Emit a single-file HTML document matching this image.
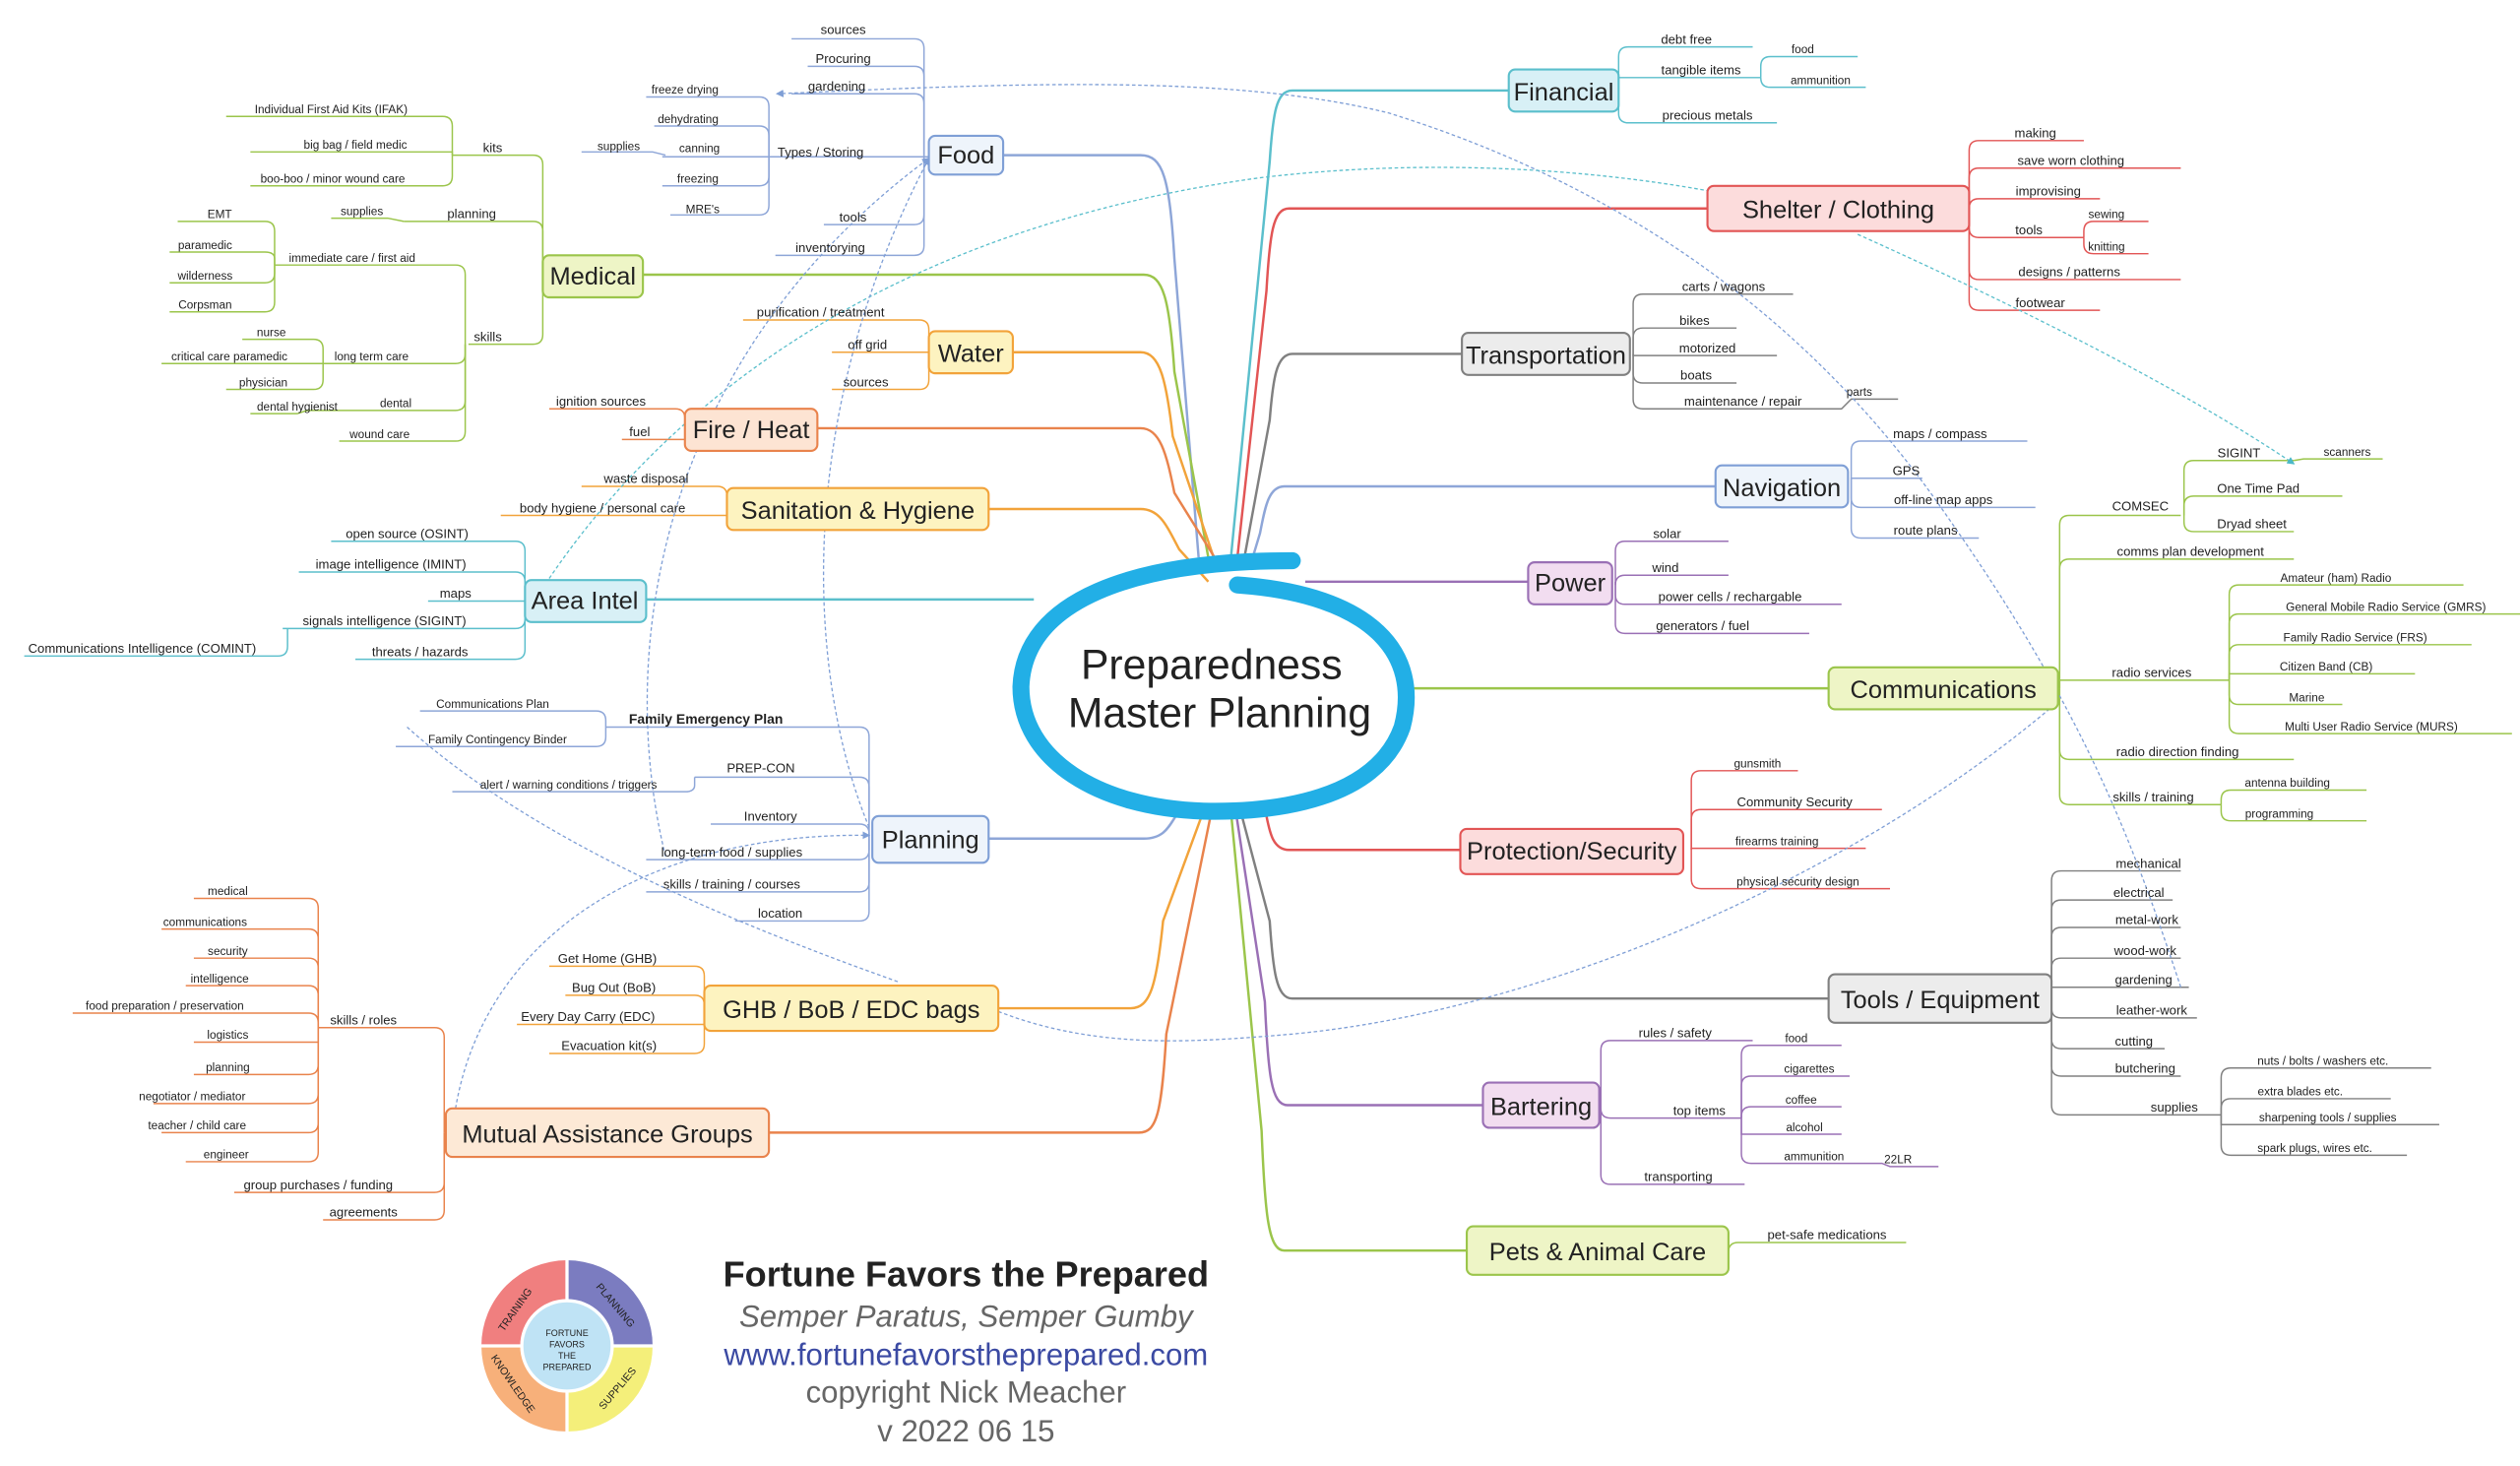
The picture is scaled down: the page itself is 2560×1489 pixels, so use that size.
<!DOCTYPE html>
<html><head><meta charset="utf-8"><style>
html,body{margin:0;padding:0;background:#fff;}
svg{display:block;}
text{font-family:"Liberation Sans",Arial,sans-serif;fill:#222;}
.l{font-size:8px;text-anchor:middle;}
.s{font-size:7.2px;text-anchor:middle;}
.n{font-size:15.5px;text-anchor:middle;}
.c path{fill:none;stroke-width:0.9;}
.m{fill:none;stroke-width:1.5;}
.d{fill:none;stroke-width:0.8;stroke-dasharray:2.2 1.6;}
</style></head><body>
<svg width="2560" height="1489" viewBox="0 0 1560 907.3" xmlns="http://www.w3.org/2000/svg">
<defs>
<marker id="ab" markerWidth="6" markerHeight="6" refX="5" refY="3" orient="auto"><path d="M0 0L6 3L0 6z" fill="#7f9fd6"/></marker>
<marker id="at" markerWidth="6" markerHeight="6" refX="5" refY="3" orient="auto"><path d="M0 0L6 3L0 6z" fill="#4bb8c8"/></marker>
</defs>

<!-- main branches -->
<g>
<path class="m" stroke="#8ea6d8" d="M621 96H706C720 96 724 110 727 160L742 345"/>
<path class="m" stroke="#9bc54b" d="M398 170H708C720 170 724 185 727 230L748 345"/>
<path class="m" stroke="#f2a33a" d="M627 218H706C718 218 722 235 726 270L752 347"/>
<path class="m" stroke="#e9834c" d="M506 265H706C718 265 722 280 727 305L755 350"/>
<path class="m" stroke="#f2a33a" d="M612 315H706C718 315 722 325 730 340L748 360"/>
<path class="m" stroke="#5bbfcc" d="M400 371H640"/>
<path class="m" stroke="#8ea6d8" d="M612 519H708C722 519 724 510 730 502"/>
<path class="m" stroke="#f2a33a" d="M618 624H700C712 624 716 610 720 570L745 502"/>
<path class="m" stroke="#e9834c" d="M476 701H705C716 701 719 690 722 640L750 502"/>
<path class="m" stroke="#5bbfcc" d="M934 56H800C790 56 788 70 786 100L762 345"/>
<path class="m" stroke="#e25555" d="M1057 129H798C788 129 786 145 784 180L766 345"/>
<path class="m" stroke="#808080" d="M905 219H800C790 219 788 235 786 260L770 347"/>
<path class="m" stroke="#8ea6d8" d="M1062 301H795C785 301 783 315 780 330L774 350"/>
<path class="m" stroke="#9a70b5" d="M946 360H808"/>
<path class="m" stroke="#9bc54b" d="M1132 426H872"/>
<path class="m" stroke="#e25555" d="M904 526H798C788 526 786 515 784 505L772 500"/>
<path class="m" stroke="#808080" d="M1132 618H800C790 618 788 600 786 570L768 502"/>
<path class="m" stroke="#9a70b5" d="M918 684H797C787 684 785 665 783 620L765 502"/>
<path class="m" stroke="#9bc54b" d="M908 774H795C785 774 783 750 781 700L762 502"/>
</g>

<!-- center -->
<path d="M766 362C850 368 880 405 868 450C852 495 790 503 745 502C680 500 632 470 632 425C634 372 700 347 800 347" fill="none" stroke="#22afe6" stroke-width="10.5" stroke-linecap="round"/>
<text x="750" y="420" style="font-size:26px;text-anchor:middle;fill:#222">Preparedness</text>
<text x="755" y="450" style="font-size:26px;text-anchor:middle;fill:#222">Master Planning</text>

<!-- child connectors -->
<g class="c">
<g stroke="#8ea6d8">
<path d="M572 96V30Q572 24 566 24H490"/><path d="M572 96V47Q572 41 566 41H500"/><path d="M572 96V64Q572 58 566 58H490"/>
<path d="M575 97H476"/><path d="M572 96V133Q572 139 566 139H510"/><path d="M572 96V152Q572 158 566 158H480"/>
<path d="M476 97V66Q476 60 470 60H400"/><path d="M476 97V84Q476 78 470 78H405"/><path d="M476 97H410"/>
<path d="M476 97V109Q476 115 470 115H410"/><path d="M476 97V127Q476 133 470 133H415"/><path d="M412 96L404 94H360"/>
<path d="M538 519V456Q538 450 532 450H375"/><path d="M538 519V487Q538 481 532 481H430"/><path d="M538 519V516Q538 510 532 510H440"/>
<path d="M538 519V526Q538 532 532 532H400"/><path d="M538 519V546Q538 552 532 552H400"/><path d="M538 519V564Q538 570 532 570H455"/>
<path d="M375 450V446Q375 440 369 440H260"/><path d="M375 450V456Q375 462 369 462H245"/><path d="M430 481V486Q430 490 424 490H280"/>
<path d="M1146 301V279Q1146 273 1152 273H1255"/><path d="M1146 301V296H1190"/><path d="M1146 301V308Q1146 314 1152 314H1260"/><path d="M1146 301V327Q1146 333 1152 333H1225"/>
</g>
<g stroke="#9bc54b">
<path d="M336 170V102Q336 96 330 96H280"/><path d="M336 170V143Q336 137 330 137H250"/><path d="M336 170V207Q336 213 330 213H290"/>
<path d="M280 96V78Q280 72 274 72H140"/><path d="M280 96V94H155"/><path d="M280 96V109Q280 115 274 115H155"/>
<path d="M250 137L240 135H205"/>
<path d="M288 213V170Q288 164 282 164H170"/><path d="M288 213V219Q288 225 282 225H200"/><path d="M288 213V248Q288 254 282 254H190"/><path d="M288 213V267Q288 273 282 273H210"/>
<path d="M170 164V143Q170 137 164 137H110"/><path d="M170 164V160Q170 156 164 156H105"/><path d="M170 164V169Q170 175 164 175H105"/><path d="M170 164V187Q170 193 164 193H105"/>
<path d="M200 225V216Q200 210 194 210H150"/><path d="M200 225H100"/><path d="M200 225V235Q200 241 194 241H140"/>
<path d="M190 254L184 256H155"/>
<path d="M1275 426V325Q1275 319 1281 319H1350"/><path d="M1275 426V352Q1275 346 1281 346H1420"/><path d="M1275 426V421H1380"/>
<path d="M1275 426V464Q1275 470 1281 470H1420"/><path d="M1275 426V492Q1275 498 1281 498H1375"/>
<path d="M1352 319V291Q1352 285 1358 285H1420"/><path d="M1352 319V313Q1352 307 1358 307H1450"/><path d="M1352 319V323Q1352 329 1358 329H1420"/><path d="M1420 285L1426 284H1475"/>
<path d="M1380 421V368Q1380 362 1386 362H1525"/><path d="M1380 421V386Q1380 380 1386 380H1560"/><path d="M1380 421V405Q1380 399 1386 399H1530"/>
<path d="M1380 421V417H1495"/><path d="M1380 421V430Q1380 436 1386 436H1450"/><path d="M1380 421V448Q1380 454 1386 454H1555"/>
<path d="M1375 498V495Q1375 489 1381 489H1465"/><path d="M1375 498V502Q1375 508 1381 508H1465"/>
<path d="M1070 774V775Q1070 769 1076 769H1180"/>
</g>
<g stroke="#f2a33a">
<path d="M575 218V204Q575 198 569 198H460"/><path d="M575 218H515"/><path d="M575 218V235Q575 241 569 241H515"/>
<path d="M450 315V307Q450 301 444 301H360"/><path d="M450 315V319H310"/>
<path d="M436 624V604Q436 598 430 598H340"/><path d="M436 624V622Q436 616 430 616H350"/><path d="M436 624V634H320"/><path d="M436 624V646Q436 652 430 652H340"/>
</g>
<g stroke="#e9834c">
<path d="M424 265V259Q424 253 418 253H340"/><path d="M424 265V272H385"/>
<path d="M275 701V642Q275 636 269 636H197"/><path d="M275 701V732Q275 738 269 738H145"/><path d="M275 701V749Q275 755 269 755H200"/>
<path d="M197 636V562Q197 556 191 556H120"/><path d="M197 636V581Q197 575 191 575H100"/><path d="M197 636V599Q197 593 191 593H120"/>
<path d="M197 636V616Q197 610 191 610H115"/><path d="M197 636V633Q197 627 191 627H45"/><path d="M197 636V645H120"/>
<path d="M197 636V659Q197 665 191 665H120"/><path d="M197 636V677Q197 683 191 683H95"/><path d="M197 636V695Q197 701 191 701H100"/><path d="M197 636V713Q197 719 191 719H115"/>
</g>
<g stroke="#5bbfcc">
<path d="M325 371V341Q325 335 319 335H205"/><path d="M325 371V360Q325 354 319 354H185"/><path d="M325 371V372H265"/>
<path d="M325 371V383Q325 389 319 389H175"/><path d="M325 371V402Q325 408 319 408H220"/><path d="M178 389V400Q178 406 172 406H15"/>
<path d="M1002 56V35Q1002 29 1008 29H1085"/><path d="M1002 56V48H1090"/><path d="M1002 56V70Q1002 76 1008 76H1100"/>
<path d="M1090 48V41Q1090 35 1096 35H1150"/><path d="M1090 48V48Q1090 54 1096 54H1155"/>
</g>
<g stroke="#e25555">
<path d="M1219 129V93Q1219 87 1225 87H1290"/><path d="M1219 129V110Q1219 104 1225 104H1350"/><path d="M1219 129V129Q1219 123 1225 123H1300"/>
<path d="M1219 129V141Q1219 147 1225 147H1290"/><path d="M1219 129V167Q1219 173 1225 173H1350"/><path d="M1219 129V186Q1219 192 1225 192H1300"/>
<path d="M1290 147V143Q1290 137 1296 137H1330"/><path d="M1290 147V151Q1290 157 1296 157H1330"/>
<path d="M1047 526V483Q1047 477 1053 477H1113"/><path d="M1047 526V507Q1047 501 1053 501H1165"/><path d="M1047 526V525H1155"/><path d="M1047 526V544Q1047 550 1053 550H1170"/>
</g>
<g stroke="#808080">
<path d="M1011 219V188Q1011 182 1017 182H1110"/><path d="M1011 219V209Q1011 203 1017 203H1075"/><path d="M1011 219V220H1100"/>
<path d="M1011 219V231Q1011 237 1017 237H1075"/><path d="M1011 219V247Q1011 253 1017 253H1140L1146 247H1175"/>
<path d="M1270 618V545Q1270 539 1276 539H1350"/><path d="M1270 618V563Q1270 557 1276 557H1345"/><path d="M1270 618V580Q1270 574 1276 574H1350"/>
<path d="M1270 618V599Q1270 593 1276 593H1350"/><path d="M1270 618V611H1355"/><path d="M1270 618V624Q1270 630 1276 630H1360"/>
<path d="M1270 618V643Q1270 649 1276 649H1340"/><path d="M1270 618V660Q1270 666 1276 666H1350"/><path d="M1270 618V684Q1270 690 1276 690H1375"/>
<path d="M1375 690V667Q1375 661 1381 661H1505"/><path d="M1375 690V686Q1375 680 1381 680H1480"/><path d="M1375 690V696H1510"/><path d="M1375 690V709Q1375 715 1381 715H1490"/>
</g>
<g stroke="#9a70b5">
<path d="M1000 360V341Q1000 335 1006 335H1070"/><path d="M1000 360V362Q1000 356 1006 356H1070"/><path d="M1000 360V368Q1000 374 1006 374H1140"/><path d="M1000 360V386Q1000 392 1006 392H1120"/>
<path d="M991 684V650Q991 644 997 644H1085"/><path d="M991 684V686Q991 692 997 692H1078"/><path d="M991 684V727Q991 733 997 733H1080"/>
<path d="M1078 692V653Q1078 647 1084 647H1140"/><path d="M1078 692V672Q1078 666 1084 666H1145"/><path d="M1078 692V691Q1078 685 1084 685H1140"/>
<path d="M1078 692V702H1140"/><path d="M1078 692V714Q1078 720 1084 720H1165L1170 722H1200"/>
</g>
</g>

<!-- dashed relationships -->
<path class="d" stroke="#7f9fd6" marker-end="url(#ab)" d="M1350 611C1320 520 1290 440 1205 319C1130 210 1020 120 860 70C760 45 620 52 481 58"/>
<path class="d" stroke="#5bbfcc" d="M340 358C420 240 560 140 780 110C880 98 980 104 1057 118"/>
<path class="d" stroke="#5bbfcc" marker-end="url(#at)" d="M1150 145C1250 190 1350 240 1420 287"/>
<path class="d" stroke="#7f9fd6" d="M618 626C680 650 740 645 800 640C960 625 1150 540 1272 436"/>
<path class="d" stroke="#7f9fd6" marker-end="url(#ab)" d="M538 512C500 420 490 260 575 98"/>
<path class="d" stroke="#7f9fd6" marker-end="url(#ab)" d="M412 530C380 400 410 220 575 98"/>
<path class="d" stroke="#7f9fd6" marker-end="url(#ab)" d="M282 686C300 580 400 515 538 517"/>
<path class="d" stroke="#7f9fd6" d="M252 450C330 520 450 570 557 608"/>

<!-- nodes -->
<g stroke-width="1.3">
<rect x="575" y="84" width="46" height="24" rx="4" fill="#eef4fb" stroke="#7f9fd6"/>
<rect x="336" y="158" width="62" height="26" rx="4" fill="#eef5c6" stroke="#9bc54b"/>
<rect x="575" y="205" width="52" height="26" rx="4" fill="#fdf3c0" stroke="#f2a33a"/>
<rect x="424" y="253" width="82" height="26" rx="4" fill="#fde4d3" stroke="#e9834c"/>
<rect x="450" y="302" width="162" height="26" rx="4" fill="#fdf3c0" stroke="#f2a33a"/>
<rect x="325" y="359" width="75" height="26" rx="4" fill="#d8f0f6" stroke="#5bbfcc"/>
<rect x="540" y="505" width="72" height="29" rx="4" fill="#eef4fb" stroke="#7f9fd6"/>
<rect x="436" y="610" width="182" height="28" rx="4" fill="#fdf3c0" stroke="#f2a33a"/>
<rect x="276" y="686" width="200" height="30" rx="4" fill="#fde9d6" stroke="#e9834c"/>
<rect x="934" y="43" width="68" height="26" rx="4" fill="#d8f0f6" stroke="#5bbfcc"/>
<rect x="1057" y="115" width="162" height="28" rx="4" fill="#fcdcdc" stroke="#e25555"/>
<rect x="905" y="206" width="104" height="26" rx="4" fill="#ececec" stroke="#808080"/>
<rect x="1062" y="288" width="82" height="26" rx="4" fill="#eef4fb" stroke="#7f9fd6"/>
<rect x="946" y="348" width="52" height="26" rx="4" fill="#f2ddf0" stroke="#9a70b5"/>
<rect x="1132" y="413" width="142" height="26" rx="4" fill="#eef5c6" stroke="#9bc54b"/>
<rect x="904" y="513" width="138" height="28" rx="4" fill="#fcdcdc" stroke="#e25555"/>
<rect x="1132" y="603" width="138" height="30" rx="4" fill="#ececec" stroke="#808080"/>
<rect x="918" y="670" width="72" height="28" rx="4" fill="#f2ddf0" stroke="#9a70b5"/>
<rect x="908" y="759" width="162" height="30" rx="4" fill="#eef5c6" stroke="#9bc54b"/>
</g>
<g class="nt">
<text class="n" x="598" y="101">Food</text>
<text class="n" x="367" y="176">Medical</text>
<text class="n" x="601" y="224">Water</text>
<text class="n" x="465" y="271">Fire / Heat</text>
<text class="n" x="531" y="321">Sanitation &amp; Hygiene</text>
<text class="n" x="362" y="377">Area Intel</text>
<text class="n" x="576" y="525">Planning</text>
<text class="n" x="527" y="630">GHB / BoB / EDC bags</text>
<text class="n" x="376" y="707">Mutual Assistance Groups</text>
<text class="n" x="968" y="62">Financial</text>
<text class="n" x="1138" y="135">Shelter / Clothing</text>
<text class="n" x="957" y="225">Transportation</text>
<text class="n" x="1103" y="307">Navigation</text>
<text class="n" x="972" y="366">Power</text>
<text class="n" x="1203" y="432">Communications</text>
<text class="n" x="973" y="532">Protection/Security</text>
<text class="n" x="1201" y="624">Tools / Equipment</text>
<text class="n" x="954" y="690">Bartering</text>
<text class="n" x="989" y="780">Pets &amp; Animal Care</text>
</g>

<!-- leaf labels -->
<g>
<text class="l" x="522" y="21">sources</text><text class="l" x="522" y="39">Procuring</text><text class="l" x="518" y="56">gardening</text>
<text class="l" x="508" y="97">Types / Storing</text><text class="l" x="528" y="137">tools</text><text class="l" x="514" y="156">inventorying</text>
<text class="s" x="424" y="58">freeze drying</text><text class="s" x="426" y="76">dehydrating</text><text class="s" x="433" y="94">canning</text>
<text class="s" x="432" y="113">freezing</text><text class="s" x="435" y="132">MRE's</text><text class="s" x="383" y="93">supplies</text>

<text class="l" x="305" y="94">kits</text><text class="l" x="292" y="135">planning</text><text class="l" x="302" y="211">skills</text>
<text class="s" x="205" y="70">Individual First Aid Kits (IFAK)</text><text class="s" x="220" y="92">big bag / field medic</text><text class="s" x="206" y="113">boo-boo / minor wound care</text>
<text class="s" x="224" y="133">supplies</text>
<text class="s" x="218" y="162">immediate care / first aid</text><text class="s" x="230" y="223">long term care</text><text class="s" x="245" y="252">dental</text><text class="s" x="235" y="271">wound care</text>
<text class="s" x="136" y="135">EMT</text><text class="s" x="127" y="154">paramedic</text><text class="s" x="127" y="173">wilderness</text><text class="s" x="127" y="191">Corpsman</text>
<text class="s" x="168" y="208">nurse</text><text class="s" x="142" y="223">critical care paramedic</text><text class="s" x="163" y="239">physician</text><text class="s" x="184" y="254">dental hygienist</text>

<text class="l" x="508" y="196">purification / treatment</text><text class="l" x="537" y="216">off grid</text><text class="l" x="536" y="239">sources</text>
<text class="l" x="372" y="251">ignition sources</text><text class="l" x="396" y="270">fuel</text>
<text class="l" x="400" y="299">waste disposal</text><text class="l" x="373" y="317">body hygiene / personal care</text>
<text class="l" x="252" y="333">open source (OSINT)</text><text class="l" x="242" y="352">image intelligence (IMINT)</text><text class="l" x="282" y="370">maps</text>
<text class="l" x="238" y="387">signals intelligence (SIGINT)</text><text class="l" x="260" y="406">threats / hazards</text><text class="l" x="88" y="404">Communications Intelligence (COMINT)</text>

<text x="437" y="448" style="font-size:8.5px;font-weight:bold;text-anchor:middle">Family Emergency Plan</text>
<text class="l" x="471" y="478">PREP-CON</text><text class="l" x="477" y="508">Inventory</text><text class="l" x="453" y="530">long-term food / supplies</text>
<text class="l" x="453" y="550">skills / training / courses</text><text class="l" x="483" y="568">location</text>
<text class="s" x="305" y="438">Communications Plan</text><text class="s" x="308" y="460">Family Contingency Binder</text><text class="s" x="352" y="488">alert / warning conditions / triggers</text>

<text class="l" x="376" y="596">Get Home (GHB)</text><text class="l" x="380" y="614">Bug Out (BoB)</text><text class="l" x="364" y="632">Every Day Carry (EDC)</text><text class="l" x="377" y="650">Evacuation kit(s)</text>

<text class="l" x="225" y="634">skills / roles</text><text class="l" x="197" y="736">group purchases / funding</text><text class="l" x="225" y="753">agreements</text>
<text class="s" x="141" y="554">medical</text><text class="s" x="127" y="573">communications</text><text class="s" x="141" y="591">security</text><text class="s" x="136" y="608">intelligence</text>
<text class="s" x="102" y="625">food preparation / preservation</text><text class="s" x="141" y="643">logistics</text><text class="s" x="141" y="663">planning</text>
<text class="s" x="119" y="681">negotiator / mediator</text><text class="s" x="122" y="699">teacher / child care</text><text class="s" x="140" y="717">engineer</text>

<text class="l" x="1044" y="27">debt free</text><text class="l" x="1053" y="46">tangible items</text><text class="l" x="1057" y="74">precious metals</text>
<text class="s" x="1116" y="33">food</text><text class="s" x="1127" y="52">ammunition</text>

<text class="l" x="1260" y="85">making</text><text class="l" x="1282" y="102">save worn clothing</text><text class="l" x="1268" y="121">improvising</text>
<text class="l" x="1256" y="145">tools</text><text class="l" x="1281" y="171">designs / patterns</text><text class="l" x="1263" y="190">footwear</text>
<text class="s" x="1304" y="135">sewing</text><text class="s" x="1304" y="155">knitting</text>

<text class="l" x="1067" y="180">carts / wagons</text><text class="l" x="1049" y="201">bikes</text><text class="l" x="1057" y="218">motorized</text>
<text class="l" x="1050" y="235">boats</text><text class="l" x="1079" y="251">maintenance / repair</text><text class="s" x="1151" y="245">parts</text>

<text class="l" x="1201" y="271">maps / compass</text><text class="l" x="1180" y="294">GPS</text><text class="l" x="1203" y="312">off-line map apps</text><text class="l" x="1192" y="331">route plans</text>

<text class="l" x="1032" y="333">solar</text><text class="l" x="1031" y="354">wind</text><text class="l" x="1071" y="372">power cells / rechargable</text><text class="l" x="1054" y="390">generators / fuel</text>

<text class="l" x="1325" y="316">COMSEC</text><text class="l" x="1356" y="344">comms plan development</text><text class="l" x="1332" y="419">radio services</text>
<text class="l" x="1348" y="468">radio direction finding</text><text class="l" x="1333" y="496">skills / training</text>
<text class="l" x="1386" y="283">SIGINT</text><text class="l" x="1398" y="305">One Time Pad</text><text class="l" x="1394" y="327">Dryad sheet</text><text class="s" x="1453" y="282">scanners</text>
<text class="s" x="1446" y="360">Amateur (ham) Radio</text><text class="s" x="1477" y="378">General Mobile Radio Service (GMRS)</text><text class="s" x="1458" y="397">Family Radio Service (FRS)</text>
<text class="s" x="1440" y="415">Citizen Band (CB)</text><text class="s" x="1428" y="434">Marine</text><text class="s" x="1468" y="452">Multi User Radio Service (MURS)</text>
<text class="s" x="1416" y="487">antenna building</text><text class="s" x="1411" y="506">programming</text>

<text class="s" x="1088" y="475">gunsmith</text><text class="l" x="1111" y="499">Community Security</text><text class="s" x="1100" y="523">firearms training</text><text class="s" x="1113" y="548">physical security design</text>

<text class="l" x="1330" y="537">mechanical</text><text class="l" x="1324" y="555">electrical</text><text class="l" x="1329" y="572">metal-work</text><text class="l" x="1328" y="591">wood-work</text>
<text class="l" x="1327" y="609">gardening</text><text class="l" x="1332" y="628">leather-work</text><text class="l" x="1321" y="647">cutting</text><text class="l" x="1328" y="664">butchering</text><text class="l" x="1346" y="688">supplies</text>
<text class="s" x="1438" y="659">nuts / bolts / washers etc.</text><text class="s" x="1424" y="678">extra blades etc.</text><text class="s" x="1441" y="694">sharpening tools / supplies</text><text class="s" x="1433" y="713">spark plugs, wires etc.</text>

<text class="l" x="1037" y="642">rules / safety</text><text class="l" x="1052" y="690">top items</text><text class="l" x="1039" y="731">transporting</text>
<text class="s" x="1112" y="645">food</text><text class="s" x="1120" y="664">cigarettes</text><text class="s" x="1115" y="683">coffee</text><text class="s" x="1117" y="700">alcohol</text>
<text class="s" x="1123" y="718">ammunition</text><text class="s" x="1175" y="720">22LR</text>
<text class="l" x="1131" y="767">pet-safe medications</text>
</g>

<!-- logo -->
<g transform="translate(351,833)">
<path d="M0 0V-53A53 53 0 0 1 53 0Z" fill="#7b7cc0"/>
<path d="M0 0H53A53 53 0 0 1 0 53Z" fill="#f4ef7a"/>
<path d="M0 0V53A53 53 0 0 1 -53 0Z" fill="#f7b07a"/>
<path d="M0 0H-53A53 53 0 0 1 0 -53Z" fill="#f07f7f"/>
<path d="M0 -54V54M-54 0H54" stroke="#fff" stroke-width="2"/>
<circle r="28" fill="#bfe3f5" stroke="#fff" stroke-width="2"/>
<text y="-6" style="font-size:5.5px;text-anchor:middle">FORTUNE</text>
<text y="1" style="font-size:5.5px;text-anchor:middle">FAVORS</text>
<text y="8" style="font-size:5.5px;text-anchor:middle">THE</text>
<text y="15" style="font-size:5.5px;text-anchor:middle">PREPARED</text>
<text transform="rotate(-55) translate(0,-37)" style="font-size:6.5px;text-anchor:middle">TRAINING</text>
<text transform="rotate(50) translate(0,-37)" style="font-size:6.5px;text-anchor:middle">PLANNING</text>
<text transform="rotate(-50) translate(0,43)" style="font-size:6.5px;text-anchor:middle">SUPPLIES</text>
<text transform="rotate(55) translate(0,43)" style="font-size:6.5px;text-anchor:middle">KNOWLEDGE</text>
</g>

<!-- footer text -->
<text x="598" y="796" style="font-size:22px;font-weight:bold;text-anchor:middle;fill:#222">Fortune Favors the Prepared</text>
<text x="598" y="821" style="font-size:19px;font-style:italic;text-anchor:middle;fill:#666">Semper Paratus, Semper Gumby</text>
<text x="598" y="845" style="font-size:19px;text-anchor:middle;fill:#3b4aa3">www.fortunefavorstheprepared.com</text>
<text x="598" y="868" style="font-size:19px;text-anchor:middle;fill:#666">copyright Nick Meacher</text>
<text x="598" y="892" style="font-size:19px;text-anchor:middle;fill:#666">v 2022 06 15</text>
</svg>
</body></html>
